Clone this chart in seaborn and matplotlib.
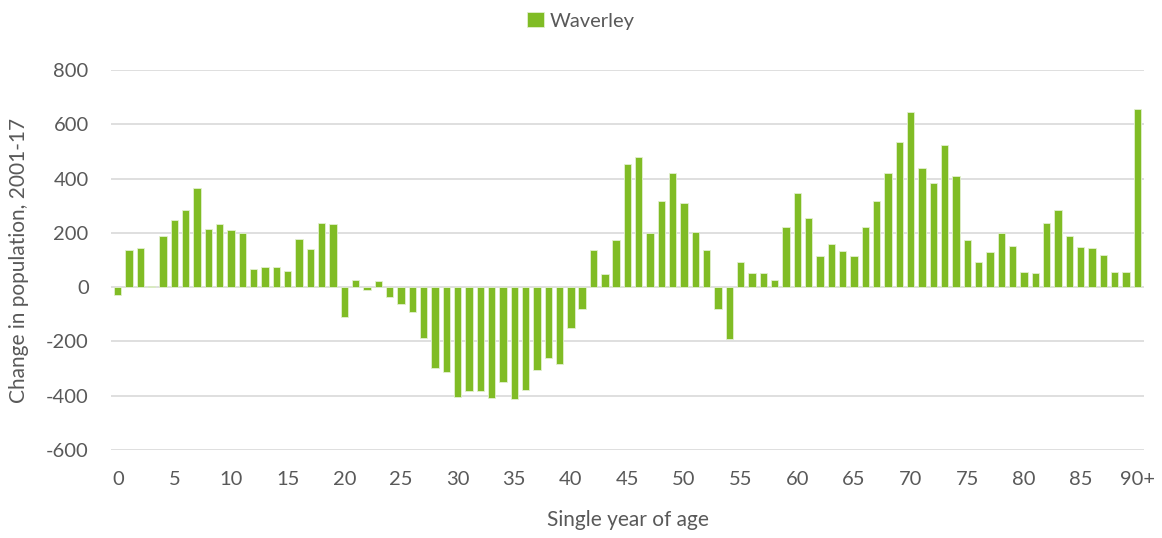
import matplotlib
matplotlib.use("Agg")
import matplotlib.pyplot as plt
import seaborn as sns
import pandas as pd

ages = [str(a) for a in range(90)] + ["90+"]
values = [-30, 136, 144, 5, 190, 247, 286, 366, 213, 232,
          210, 198, 66, 74, 75, 58, 178, 141, 236, 233,
          -110, 27, -12, 21, -36, -63, -90, -188, -297, -312,
          -406, -383, -383, -410, -350, -412, -379, -307, -261, -285,
          -151, -81, 136, 50, 174, 455, 480, 200, 318, 422,
          309, 202, 135, -79, -191, 94, 53, 53, 27, 220,
          348, 256, 115, 158, 133, 114, 222, 318, 422, 536,
          644, 438, 383, 524, 410, 174, 93, 130, 200, 153,
          56, 53, 236, 285, 189, 148, 144, 119, 56, 56,
          655]
series_name = "Waverley"
tick_labels = [str(a) for a in range(0, 90, 5)] + ["90+"]
y_ticks = [-600, -400, -200, 0, 200, 400, 600, 800]

df = pd.DataFrame({"age": ages, "value": values, "series": series_name})

sns.set_theme(style="white")
plt.rcParams["font.family"] = ["Lato", "DejaVu Sans"]

fig = plt.figure(figsize=(11.62, 5.38), dpi=100)
ax = fig.add_axes([0.0955, 0.1636, 0.889, 0.7063])

green = "#80BC25"
sns.barplot(data=df, x="age", y="value", hue="series", palette=[green],
            order=ages, width=0.65, edgecolor="#e2f0cf", linewidth=0.6,
            saturation=1, ax=ax, legend=True)

ax.set_ylim(-600, 800)
ax.set_yticks(y_ticks)
ax.set_yticklabels([str(v) for v in y_ticks])
ax.set_xlim(-0.6, 90.6)
tick_pos = list(range(0, 90, 5)) + [90]
ax.set_xticks(tick_pos)
ax.set_xticklabels(tick_labels)
ax.tick_params(axis="both", length=0, labelsize=14.5, labelcolor="#595959")
ax.tick_params(axis="y", pad=16)
ax.tick_params(axis="x", pad=15)
ax.yaxis.grid(True, color="#d9d9d9", linewidth=1.2)
ax.set_axisbelow(True)
for s in ax.spines.values():
    s.set_visible(False)

ax.set_xlabel("Single year of age", fontsize=15, color="#595959", labelpad=16)
ax.set_ylabel("Change in population, 2001-17", fontsize=15, color="#595959", labelpad=12)

leg = ax.legend(loc="upper center", bbox_to_anchor=(0.5, 1.0), bbox_transform=fig.transFigure,
                frameon=False, fontsize=14.5, handlelength=0.8, handleheight=0.8,
                handletextpad=0.3, borderaxespad=0.2)
for t in leg.get_texts():
    t.set_color("#595959")

fig.savefig("out.png", dpi=100)
